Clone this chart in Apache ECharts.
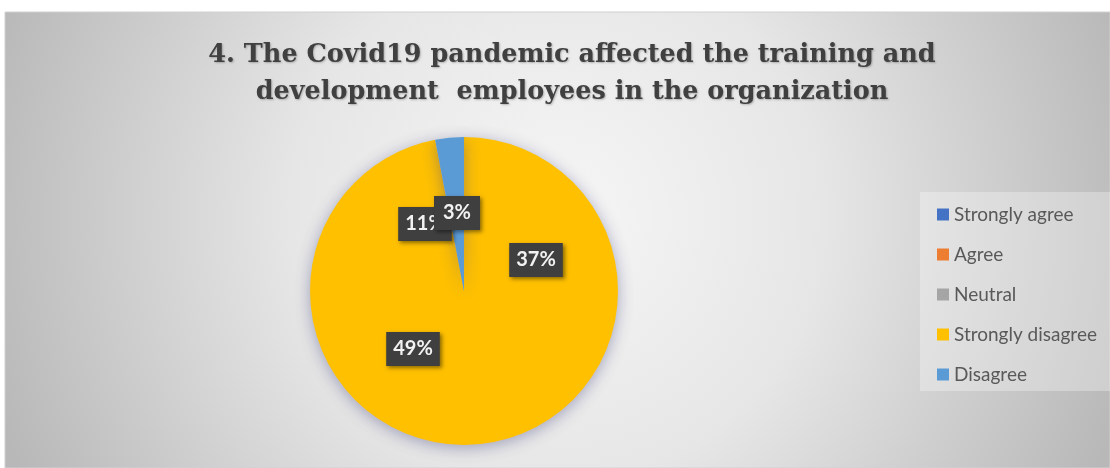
<!DOCTYPE html>
<html>
<head>
<meta charset="utf-8">
<script src="https://cdn.jsdelivr.net/npm/echarts@6/dist/echarts.min.js"></script>
<style>
  html, body { margin: 0; padding: 0; background: #ffffff; }
  #chart { width: 1110px; height: 468px; }
</style>
</head>
<body>
<div id="chart"></div>
<script>
// data
const categories = ['Strongly agree', 'Agree', 'Neutral', 'Strongly disagree', 'Disagree']
const values = [0, 0, 0, 97, 3]
// the labels as printed on the original chart (they don't follow the slices)
const labelTexts = ['11%', '3%', '37%', '49%']

const colors = ['#4472C4', '#ED7D31', '#A5A5A5', '#FFC000', '#5B9BD5']
const labelPos = [[425, 224], [457, 213], [536, 260], [413, 349]]
const labelPad = [[7, 7], [7, 9], [7, 7], [7, 7]]

const chart = echarts.init(document.getElementById('chart'))

const labelBoxes = labelTexts.map((t, i) => ({
  type: 'text',
  x: labelPos[i][0],
  y: labelPos[i][1],
  z: 100 + i,
  style: {
    text: t,
    font: 'bold 20px Lato',
    fill: '#f2f2f2',
    align: 'center',
    verticalAlign: 'middle',
    backgroundColor: '#3f3f3f',
    padding: labelPad[i],
    shadowColor: 'rgba(0,0,0,0.45)',
    shadowBlur: 4,
    shadowOffsetX: 2,
    shadowOffsetY: 2
  }
}))

chart.setOption({
  animation: false,
  color: colors,
  title: {
    text: '4. The Covid19 pandemic affected the training and\ndevelopment  employees in the organization',
    left: 567,
    textAlign: 'center',
    top: 32,
    textStyle: {
      fontFamily: 'DejaVu Serif',
      fontWeight: 'bold',
      fontSize: 25.5,
      lineHeight: 37,
      color: '#404040',
      textShadowColor: 'rgba(0,0,0,0.25)',
      textShadowBlur: 2,
      textShadowOffsetX: 1,
      textShadowOffsetY: 1
    }
  },
  legend: {
    orient: 'vertical',
    left: 932,
    top: 200,
    data: categories,
    icon: 'rect',
    itemWidth: 12,
    itemHeight: 12,
    itemGap: 21,
    textStyle: {
      fontFamily: 'Lato',
      fontSize: 19,
      lineHeight: 19,
      color: '#595959'
    }
  },
  graphic: [
    {
      type: 'rect',
      z: -10,
      shape: { x: 5, y: 12, width: 1105, height: 456 },
      style: {
        fill: new echarts.graphic.RadialGradient(0.5, 0.45, 1.3, [
          { offset: 0, color: '#f6f6f6' },
          { offset: 0.45, color: '#e6e6e6' },
          { offset: 1, color: '#b8b8b8' }
        ]),
        stroke: '#d0d0d0',
        lineWidth: 1
      }
    },
    {
      type: 'rect',
      z: -5,
      shape: { x: 920, y: 192, width: 190, height: 199 },
      style: { fill: 'rgba(255,255,255,0.3)' }
    },
    ...labelBoxes
  ],
  series: [{
    type: 'pie',
    center: [464, 291],
    radius: 154,
    startAngle: 90,
    clockwise: true,
    label: { show: false },
    labelLine: { show: false },
    emphasis: { disabled: true },
    itemStyle: {
      shadowColor: 'rgba(70,70,130,0.45)',
      shadowBlur: 16,
      shadowOffsetY: 3
    },
    data: categories.map((name, i) => ({ name, value: values[i] }))
  }]
})
</script>
</body>
</html>
